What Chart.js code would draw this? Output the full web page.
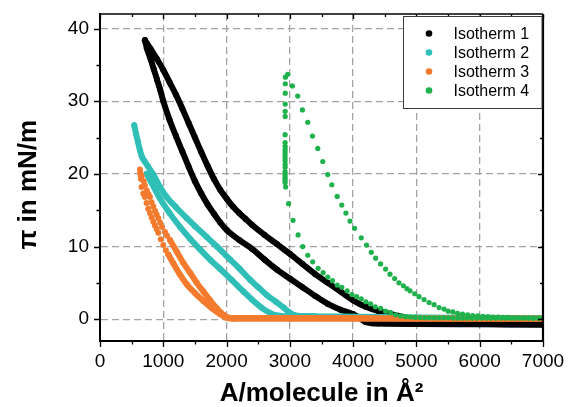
<!DOCTYPE html>
<html>
<head>
<meta charset="utf-8">
<script src="https://cdn.jsdelivr.net/npm/chart.js@4.4.1/dist/chart.umd.min.js"></script>
<style>
  html, body { margin: 0; padding: 0; background: #ffffff; }
  #wrap { width: 568px; height: 407px; }
</style>
</head>
<body>
<div id="wrap"><canvas id="chart" width="568" height="407"></canvas></div>
<script>
// Surface pressure–area isotherms (four runs), area per molecule in Å², pressure in mN/m

const seriesNames = ['Isotherm 1', 'Isotherm 2', 'Isotherm 3', 'Isotherm 4'];
const seriesColors = ['#000000', '#2fbfb7', '#f47b2e', '#1fb14c'];

const xTickValues = [0, 1000, 2000, 3000, 4000, 5000, 6000, 7000];
const yTickValues = [0, 10, 20, 30, 40];

// Isotherm 1 — upper (outer) branch
const iso1OuterArea = [710, 800, 900, 1000, 1100, 1200, 1300, 1400, 1500, 1600, 1700, 1800, 1900, 2000, 2100, 2200, 2300, 2400, 2600, 2800, 3000, 3200, 3400, 3600, 3800, 4000, 4200, 4400, 4600, 4800, 5000, 5200, 5500, 6000, 6500, 7000];
const iso1OuterPi   = [38.4, 37.2, 35.8, 34.3, 32.6, 30.9, 29.0, 27.0, 25.0, 23.0, 21.1, 19.3, 17.8, 16.6, 15.5, 14.6, 13.8, 13.0, 11.6, 10.3, 9.0, 7.6, 6.2, 5.0, 3.8, 2.6, 1.7, 1.1, 0.7, 0.3, -0.1, -0.4, -0.6, -0.65, -0.7, -0.7];

// Isotherm 1 — lower (inner) branch
const iso1InnerArea = [710, 740, 800, 850, 900, 950, 1000, 1100, 1200, 1300, 1400, 1500, 1600, 1700, 1800, 1900, 2000, 2200, 2400, 2600, 2800, 3000, 3200, 3400, 3600, 3800, 4000, 4100, 4200, 4400, 5000, 6000, 7000];
const iso1InnerPi   = [38.4, 37.3, 35.8, 34.4, 33.0, 31.6, 30.0, 27.4, 25.2, 23.1, 21.0, 19.0, 17.3, 15.8, 14.5, 13.3, 12.3, 10.9, 9.7, 8.2, 6.8, 5.6, 4.4, 3.2, 2.1, 1.3, 0.7, 0.2, -0.4, -0.6, -0.65, -0.7, -0.75];

// Isotherm 2 — upper branch (from the peak)
const iso2UpArea = [541, 570, 600, 630, 660, 700, 760, 842, 950, 1054, 1200, 1371, 1500, 1688, 1846, 2057, 2200, 2374, 2500, 2639, 2780, 2902, 3000, 3060, 3150, 4000, 5000, 6000, 7000];
const iso2UpPi   = [26.7, 25.5, 24.4, 23.3, 22.4, 21.8, 21.0, 19.9, 18.2, 16.8, 15.4, 13.9, 12.8, 11.3, 10.0, 8.2, 7.0, 5.4, 4.4, 3.3, 2.4, 1.6, 0.9, 0.6, 0.45, 0.35, 0.25, 0.2, 0.15];

// Isotherm 2 — lower branch
const iso2LowArea = [737, 800, 948, 1100, 1265, 1420, 1582, 1750, 1899, 2080, 2268, 2400, 2550, 2700, 2800, 3000, 3400];
const iso2LowPi   = [20.0, 19.0, 16.6, 14.6, 12.7, 11.1, 9.6, 8.1, 6.9, 5.4, 3.8, 2.7, 1.6, 0.8, 0.5, 0.4, 0.4];

// Isotherm 3 — sparse points near the top of both branches
const iso3LeftDotArea = [631, 636, 642, 648, 657, 683, 710, 736, 762, 789, 816, 842, 868, 895, 921, 960, 1000, 1040];
const iso3LeftDotPi   = [20.6, 20.2, 19.8, 19.3, 18.2, 17.3, 16.8, 16.0, 15.2, 14.6, 14.0, 13.4, 12.9, 12.4, 11.9, 11.0, 10.2, 9.5];
const iso3RightDotArea = [660, 690, 710, 740, 765, 789, 815, 842, 870, 895, 921, 950, 980, 1027, 1060];
const iso3RightDotPi   = [19.7, 19.0, 18.4, 17.7, 17.2, 16.8, 16.1, 15.5, 14.9, 14.4, 13.9, 13.3, 12.7, 12.0, 11.5];

// Isotherm 3 — dense parts of both branches
const iso3LeftArea = [1080, 1158, 1260, 1371, 1500, 1634, 1770, 1899, 2000, 2100, 3000, 4000, 5000, 6000, 7000];
const iso3LeftPi   = [8.9, 7.7, 6.2, 4.8, 3.6, 2.5, 1.5, 0.7, 0.2, 0.05, 0.05, 0.05, 0.05, 0.05, 0.05];
const iso3RightArea = [1106, 1212, 1320, 1423, 1529, 1634, 1740, 1846, 1950, 2005, 2100, 3000, 4000, 5000, 6000, 7000];
const iso3RightPi   = [10.9, 9.3, 7.7, 6.4, 5.0, 3.8, 2.6, 1.5, 0.6, 0.3, 0.15, 0.15, 0.15, 0.1, 0.1, 0.1];

// Isotherm 4 — compression points
const iso4CompArea = [2925, 2924, 2924, 2925, 2925, 2924, 2925, 2926, 2925, 2925, 2924, 2925, 2925, 2926, 2925, 2925, 2926, 2926, 2927, 2927, 2928, 2929,
  2934, 2981, 3050, 3130, 3203, 3283, 3361, 3447, 3526, 3599, 3674, 3748, 3821, 3906, 3980, 4054, 4128, 4201, 4276, 4350, 4434, 4513, 4593, 4672, 4751,
  4830, 4905, 4980, 5055, 5130, 5205, 5280, 5355, 5430, 5505, 5580, 5655, 5730, 5805, 5880, 5955, 6030, 6105, 6180, 6255, 6330, 6405, 6480, 6555, 6630, 6705, 6780, 6855, 6930, 7000];
const iso4CompPi   = [18.8, 19.1, 19.4, 19.7, 20.0, 20.3, 20.9, 21.3, 21.8, 22.2, 22.6, 23.0, 23.4, 23.8, 24.3, 25.4, 27.9, 28.6, 29.6, 31.1, 32.4, 33.3,
  18.2, 15.9, 13.6, 11.6, 10.0, 8.8, 7.9, 7.0, 6.4, 5.8, 5.3, 4.7, 4.4, 3.9, 3.4, 3.1, 2.8, 2.4, 2.1, 1.7, 1.5, 1.1, 0.9, 0.6, 0.45,
  0.35, 0.3, 0.25, 0.25, 0.2, 0.2, 0.2, 0.2, 0.2, 0.2, 0.15, 0.15, 0.15, 0.15, 0.15, 0.15, 0.15, 0.15, 0.15, 0.15, 0.15, 0.15, 0.15, 0.15, 0.15, 0.15, 0.15, 0.15, 0.15, 0.15];

// Isotherm 4 — expansion points
const iso4ExpArea = [2966, 3040, 3124, 3198, 3283, 3357, 3441, 3520, 3599, 3663, 3748, 3820, 3885, 3950, 4022, 4128, 4212, 4287, 4355, 4434, 4513, 4582, 4656, 4724, 4794, 4850, 4899, 4973, 5041, 5121, 5200, 5279, 5358, 5437, 5501, 5575, 5650, 5729, 5810, 5890, 5970, 6050, 6130, 6210, 6290, 6370, 6450, 6530, 6610, 6690, 6770, 6850, 6930, 7000];
const iso4ExpPi   = [33.7, 32.1, 30.7, 28.8, 27.1, 25.2, 23.5, 21.7, 19.9, 18.5, 16.9, 15.7, 14.6, 13.5, 12.5, 11.2, 10.2, 9.2, 8.4, 7.6, 6.9, 6.2, 5.6, 5.0, 4.6, 4.2, 3.9, 3.5, 3.1, 2.7, 2.3, 2.0, 1.6, 1.4, 1.1, 1.0, 0.8, 0.7, 0.6, 0.5, 0.45, 0.4, 0.35, 0.3, 0.3, 0.25, 0.25, 0.2, 0.2, 0.2, 0.2, 0.15, 0.15, 0.15];

const toPoints = (area, pi) => area.map((a, i) => ({ x: a, y: pi[i] }));

// continuous band of densely spaced measurements
function denseBranch(area, pi, color, order) {
  return {
    data: toPoints(area, pi),
    showLine: true,
    borderColor: color,
    borderWidth: 6,
    borderCapStyle: 'round',
    borderJoinStyle: 'round',
    cubicInterpolationMode: 'monotone',
    pointRadius: 3,
    pointBackgroundColor: color,
    pointBorderWidth: 0,
    order: order
  };
}

// individually resolved measurement points
function dotBranch(area, pi, color, order, radius) {
  return {
    data: toPoints(area, pi),
    showLine: false,
    pointRadius: radius,
    pointBackgroundColor: color,
    pointBorderWidth: 0,
    order: order
  };
}

const datasets = [
  denseBranch(iso1OuterArea, iso1OuterPi, seriesColors[0], 8),
  denseBranch(iso1InnerArea, iso1InnerPi, seriesColors[0], 8),
  denseBranch(iso2UpArea, iso2UpPi, seriesColors[1], 6),
  denseBranch(iso2LowArea, iso2LowPi, seriesColors[1], 6),
  dotBranch(iso3LeftDotArea, iso3LeftDotPi, seriesColors[2], 4, 3),
  dotBranch(iso3RightDotArea, iso3RightDotPi, seriesColors[2], 4, 3),
  denseBranch(iso3LeftArea, iso3LeftPi, seriesColors[2], 4),
  denseBranch(iso3RightArea, iso3RightPi, seriesColors[2], 4),
  dotBranch(iso4CompArea, iso4CompPi, seriesColors[3], 1, 2.6),
  dotBranch(iso4ExpArea, iso4ExpPi, seriesColors[3], 1, 2.6)
];

const GRID_COLOR = '#a3a3a3';
const FONT = '"Liberation Sans", Arial, sans-serif';

// frame on top and right, with inward ticks; outward ticks on bottom and left
const frameTicks = {
  id: 'frameTicks',
  afterDatasetsDraw(chart) {
    const { ctx, chartArea: a, scales: { x, y } } = chart;
    ctx.save();
    ctx.strokeStyle = '#000';
    ctx.lineWidth = 1.6;
    ctx.beginPath();
    ctx.moveTo(a.left, a.top); ctx.lineTo(a.right, a.top);
    ctx.stroke();
    ctx.lineWidth = 2.2;
    ctx.beginPath();
    ctx.moveTo(a.right, a.top); ctx.lineTo(a.right, a.bottom + 1);
    ctx.stroke();

    ctx.lineWidth = 1.3;
    for (let v = 0; v <= 7000; v += 500) {
      const px = Math.round(x.getPixelForValue(v)) + 0.5;
      const major = v % 1000 === 0;
      ctx.beginPath();
      ctx.moveTo(px, a.bottom); ctx.lineTo(px, a.bottom + (major ? 6 : 3.5));
      ctx.moveTo(px, a.top); ctx.lineTo(px, a.top + (major ? 5 : 3));
      ctx.stroke();
    }
    for (let v = 0; v <= 40; v += 5) {
      const py = Math.round(y.getPixelForValue(v)) + 0.5;
      const major = v % 10 === 0;
      ctx.beginPath();
      ctx.moveTo(a.left, py); ctx.lineTo(a.left - (major ? 6 : 3.5), py);
      ctx.moveTo(a.right, py); ctx.lineTo(a.right - (major ? 5 : 3), py);
      ctx.stroke();
    }
    ctx.restore();
  }
};

// boxed key in the upper right corner
const keyBox = {
  id: 'keyBox',
  afterDraw(chart) {
    const { ctx, chartArea: a } = chart;
    const left = 403.5, top = 16.5, w = a.right - 1 - left, h = 92;
    ctx.save();
    ctx.fillStyle = '#ffffff';
    ctx.fillRect(left, top, w, h);
    ctx.strokeStyle = '#3a3a3a';
    ctx.lineWidth = 1;
    ctx.strokeRect(left, top, w, h);
    ctx.font = '16px ' + FONT;
    ctx.textBaseline = 'middle';
    ctx.textAlign = 'left';
    seriesNames.forEach((name, i) => {
      const cy = top + 17 + i * 19;
      ctx.fillStyle = seriesColors[i];
      ctx.beginPath();
      ctx.arc(left + 25.5, cy, 3.3, 0, Math.PI * 2);
      ctx.fill();
      ctx.fillStyle = '#000';
      ctx.fillText(name, left + 50, cy + 1);
    });
    ctx.restore();
  }
};

new Chart(document.getElementById('chart'), {
  type: 'scatter',
  data: { datasets },
  options: {
    responsive: false,
    animation: false,
    devicePixelRatio: 1,
    layout: { padding: { top: 14, right: 25, left: 0, bottom: 0 } },
    plugins: { legend: { display: false }, tooltip: { enabled: false } },
    scales: {
      x: {
        type: 'linear',
        min: 0,
        max: 7000,
        afterBuildTicks: (axis) => { axis.ticks = xTickValues.map(v => ({ value: v })); },
        afterFit: (scale) => { scale.height = 66; scale.paddingLeft = 0; scale.paddingRight = 0; },
        ticks: {
          font: { family: FONT, size: 19 },
          color: '#000',
          padding: 9,
          maxRotation: 0,
          autoSkip: false,
          callback: (v) => String(v)
        },
        grid: {
          color: (c) => (c.tick && c.tick.value > 0 && c.tick.value < 7000) ? GRID_COLOR : 'rgba(0,0,0,0)',
          lineWidth: 1.3,
          drawTicks: false
        },
        border: { display: true, color: '#000', width: 2, dash: [7, 4] },
        title: {
          display: true,
          text: 'A/molecule in Å²',
          color: '#000',
          font: { family: FONT, size: 26, weight: 'bold', lineHeight: 1 },
          padding: { top: 0, bottom: 0 }
        }
      },
      y: {
        type: 'linear',
        min: -3,
        max: 42,
        afterBuildTicks: (axis) => { axis.ticks = yTickValues.map(v => ({ value: v })); },
        afterFit: (scale) => { scale.width = 100; scale.paddingTop = 0; scale.paddingBottom = 0; },
        ticks: {
          font: { family: FONT, size: 19 },
          color: '#000',
          padding: 11,
          callback: (v) => String(v)
        },
        grid: {
          color: GRID_COLOR,
          lineWidth: 1.3,
          drawTicks: false
        },
        border: { display: true, color: '#000', width: 2, dash: [7, 4] },
        title: {
          display: true,
          text: 'π in mN/m  ',
          color: '#000',
          font: { family: FONT, size: 26, weight: 'bold', lineHeight: 1 },
          padding: { top: 16, bottom: 0 }
        }
      }
    }
  },
  plugins: [frameTicks, keyBox]
});
</script>
</body>
</html>
